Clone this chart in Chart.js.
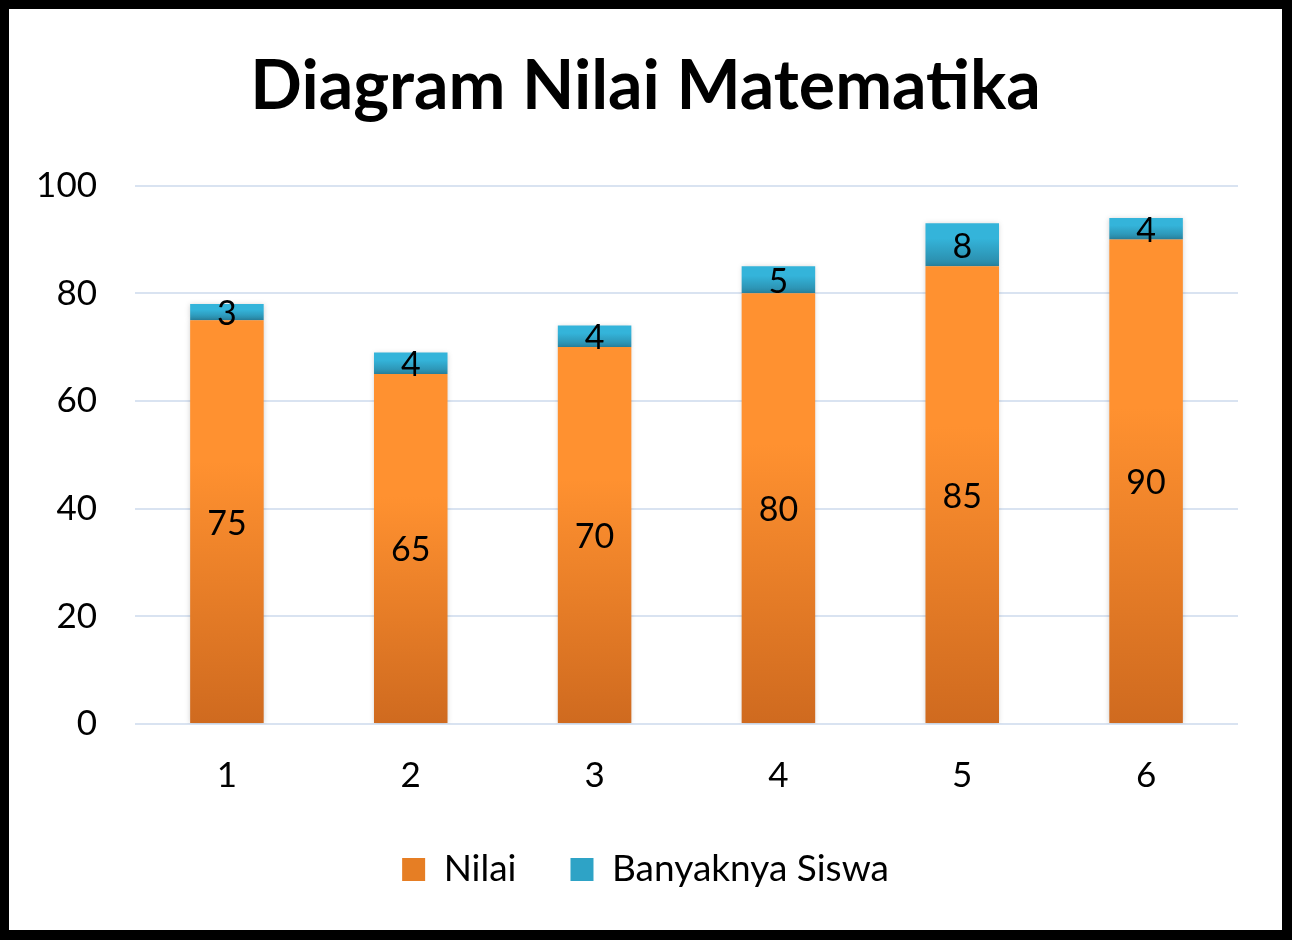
<!DOCTYPE html>
<html>
<head>
<meta charset="utf-8">
<script src="https://cdn.jsdelivr.net/npm/chart.js@4.4.0/dist/chart.umd.min.js"></script>
<style>
  html, body { margin: 0; padding: 0; background: #000; }
  #frame { position: absolute; left: 0; top: 0; width: 1292px; height: 940px; box-sizing: border-box;
           border: 9px solid #000; border-right-width: 10px; border-bottom-width: 10px; background: #fff; border-radius: 4px; }
  #wrap { position: relative; width: 1273px; height: 921px; background: #fff; }
</style>
</head>
<body>
<div id="frame"><div id="wrap"><canvas id="c"></canvas></div></div>
<script>
const categories = ['1', '2', '3', '4', '5', '6'];
const nilai = [75, 65, 70, 80, 85, 90];
const banyaknyaSiswa = [3, 4, 4, 5, 8, 4];
const yTicks = [0, 20, 40, 60, 80, 100];
const chartTitle = 'Diagram Nilai Matematika';
const seriesNames = ['Nilai', 'Banyaknya Siswa'];

const FONT = 'Lato, "Open Sans", sans-serif';

function segGradient(ctx, start, end, topCol, botCol, fallback) {
  const chart = ctx.chart;
  const y = chart.scales && chart.scales.y;
  if (!chart.chartArea || !y || ctx.type !== 'data') return fallback;
  const y0 = y.getPixelForValue(end);
  const y1 = y.getPixelForValue(start);
  if (!isFinite(y0) || !isFinite(y1) || y0 === y1) return fallback;
  const g = chart.ctx.createLinearGradient(0, y0, 0, y1);
  g.addColorStop(0, topCol);
  g.addColorStop(0.35, topCol);
  g.addColorStop(1, botCol);
  return g;
}

const dataLabels = {
  id: 'dataLabels',
  afterDatasetsDraw(chart) {
    const c = chart.ctx;
    c.save();
    c.font = '34px ' + FONT;
    c.fillStyle = '#000';
    c.textAlign = 'center';
    c.textBaseline = 'middle';
    chart.data.datasets.forEach((ds, di) => {
      const meta = chart.getDatasetMeta(di);
      meta.data.forEach((bar, i) => {
        const p = bar.getProps(['x', 'y', 'base'], true);
        c.fillText(String(ds.data[i]), p.x, (p.y + p.base) / 2 + 2);
      });
    });
    c.restore();
  }
};

const barShadow = {
  id: 'barShadow',
  beforeDatasetsDraw(chart) {
    const c = chart.ctx;
    c.save();
    c.shadowColor = 'rgba(0,0,0,0.18)';
    c.shadowBlur = 5;
    c.shadowOffsetX = 0;
    c.shadowOffsetY = 0;
  },
  afterDatasetsDraw(chart) {
    chart.ctx.restore();
  }
};

const chart = new Chart(document.getElementById('c'), {
  type: 'bar',
  data: {
    labels: categories,
    datasets: [
      {
        label: seriesNames[0],
        data: nilai,
        yAxisID: 'y',
        backgroundColor: (ctx) => segGradient(ctx, 0, nilai[ctx.dataIndex], '#FF9130', '#CF6A1F', '#F08528'),
        borderWidth: 0,
        categoryPercentage: 1,
        barPercentage: 0.4
      },
      {
        label: seriesNames[1],
        data: banyaknyaSiswa,
        yAxisID: 'y',
        backgroundColor: (ctx) => segGradient(ctx, nilai[ctx.dataIndex], nilai[ctx.dataIndex] + banyaknyaSiswa[ctx.dataIndex], '#34B4DA', '#2A88A6', '#2EA3C6'),
        borderWidth: 0,
        categoryPercentage: 1,
        barPercentage: 0.4
      }
    ]
  },
  options: {
    responsive: true,
    maintainAspectRatio: false,
    animation: false,
    layout: { padding: { left: 0, right: 0, top: 0, bottom: 32 } },
    plugins: {
      title: {
        display: true,
        text: chartTitle,
        color: '#000',
        font: { family: FONT, size: 68, weight: 'bold' },
        padding: { top: 37, bottom: 58 }
      },
      legend: {
        position: 'bottom',
        labels: {
          color: '#000',
          font: { family: FONT, size: 37 },
          boxWidth: 23,
          boxHeight: 23,
          padding: 54,
          generateLabels: (ch) => ch.data.datasets.map((ds, i) => ({
            text: ds.label,
            fillStyle: i === 0 ? '#E67E24' : '#2EA3C6',
            strokeStyle: 'rgba(0,0,0,0)',
            lineWidth: 0,
            hidden: false,
            datasetIndex: i
          }))
        }
      },
      tooltip: { enabled: false }
    },
    scales: {
      x: {
        stacked: true,
        afterFit: (s) => { s.height = 73; },
        grid: { display: false, drawTicks: false },
        border: { display: false },
        ticks: { color: '#000', font: { family: FONT, size: 35 }, padding: 31 }
      },
      y: {
        stacked: true,
        position: 'left',
        min: 0,
        max: 100,
        afterFit: (s) => { s.width = 126; },
        afterBuildTicks: (s) => { s.ticks = yTicks.map(v => ({ value: v })); },
        grid: { color: '#D9E3F1', lineWidth: 2, drawTicks: false },
        border: { display: false },
        ticks: { color: '#000', font: { family: FONT, size: 35 }, padding: 38 }
      },
      yRightSpace: {
        type: 'linear',
        axis: 'y',
        position: 'right',
        min: 0,
        max: 100,
        afterFit: (s) => { s.width = 44; },
        grid: { display: false, drawTicks: false },
        border: { display: false },
        ticks: { display: false }
      }
    }
  },
  plugins: [barShadow, dataLabels]
});
chart.update();
</script>
</body>
</html>
